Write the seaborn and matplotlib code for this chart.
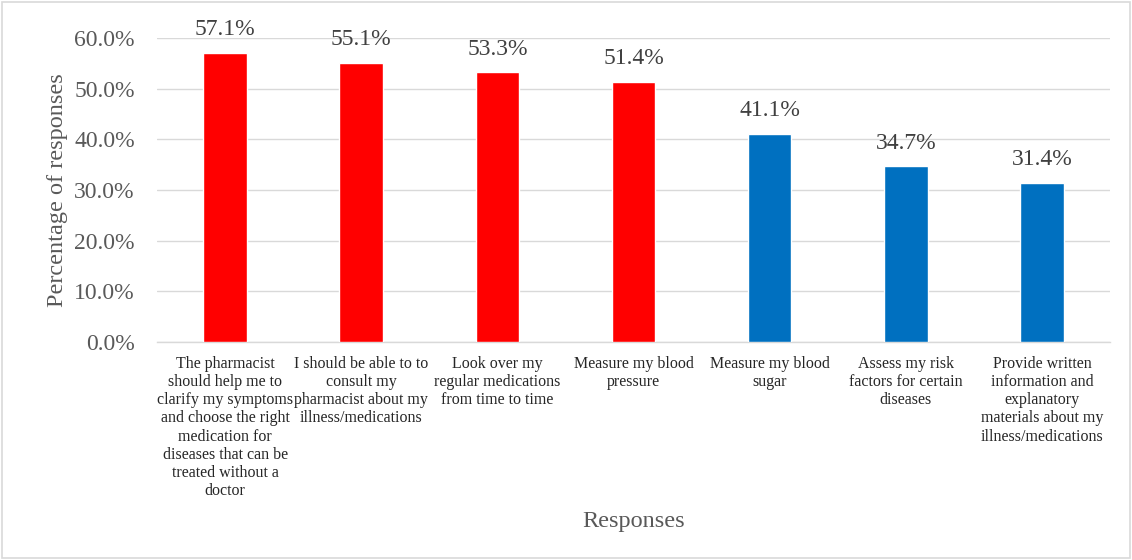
import matplotlib
matplotlib.use("Agg")
import matplotlib.pyplot as plt
import seaborn as sns
import pandas as pd

categories = [
    "The pharmacist\nshould help me to\nclarify my symptoms\nand choose the right\nmedication for\ndiseases that can be\ntreated without a\ndoctor",
    "I should be able to to\nconsult my\npharmacist about my\nillness/medications",
    "Look over my\nregular medications\nfrom time to time",
    "Measure my blood\npressure",
    "Measure my blood\nsugar",
    "Assess my risk\nfactors for certain\ndiseases",
    "Provide written\ninformation and\nexplanatory\nmaterials about my\nillness/medications",
]
values = [57.1, 55.1, 53.3, 51.4, 41.1, 34.7, 31.4]
colors = ["#FF0000", "#FF0000", "#FF0000", "#FF0000", "#0070C0", "#0070C0", "#0070C0"]
yticks = [0, 10, 20, 30, 40, 50, 60]

sns.set_theme(style="white")
plt.rcParams["font.family"] = ["Liberation Serif", "DejaVu Serif"]

df = pd.DataFrame({"cat": categories, "val": values})

fig = plt.figure(figsize=(11.32, 5.6), dpi=100)
ax = fig.add_axes([0.1387, 0.3893, 0.9806 - 0.1387, 0.932 - 0.3893])

sns.barplot(data=df, x="cat", y="val", hue="cat", palette=colors, dodge=False,
            legend=False, width=0.32, saturation=1, ax=ax, zorder=3)

ax.set_ylim(0, 60)
ax.set_xlim(-0.5, len(categories) - 0.5)
ax.set_yticks(yticks)
ax.set_yticklabels([f"{v:.1f}%" for v in yticks], fontsize=17, color="#595959")
ax.yaxis.grid(True, color="#D9D9D9", linewidth=1, zorder=0)
ax.tick_params(axis="both", length=0)
ax.tick_params(axis="y", pad=16)
ax.tick_params(axis="x", pad=10)
ax.set_xticks(range(len(categories)))
ax.set_xticklabels(categories, fontsize=11.5, color="#262626", linespacing=1.18, va="top")

for s in ["top", "right", "left"]:
    ax.spines[s].set_visible(False)
ax.spines["bottom"].set_color("#D9D9D9")
ax.spines["bottom"].set_linewidth(1)

for i, v in enumerate(values):
    ax.annotate(f"{v:.1f}%", (i, v), xytext=(0, 9), textcoords="offset points",
                ha="center", va="bottom", fontsize=17, color="#404040")

ax.set_ylabel("")
ax.set_xlabel("")
fig.text(57 / 1132, 1 - 190 / 560, "Percentage of responses", rotation=90,
         ha="center", va="center", fontsize=17.5, color="#595959")
fig.text(634 / 1132, 1 - 521 / 560, "Responses", ha="center", va="center",
         fontsize=17.5, color="#595959")

fig.patches.append(plt.Rectangle((0.002, 0.003), 0.996, 0.994, transform=fig.transFigure,
                                 fill=False, edgecolor="#D9D9D9", linewidth=1.2))

fig.savefig("out.png", dpi=100, facecolor="white")
